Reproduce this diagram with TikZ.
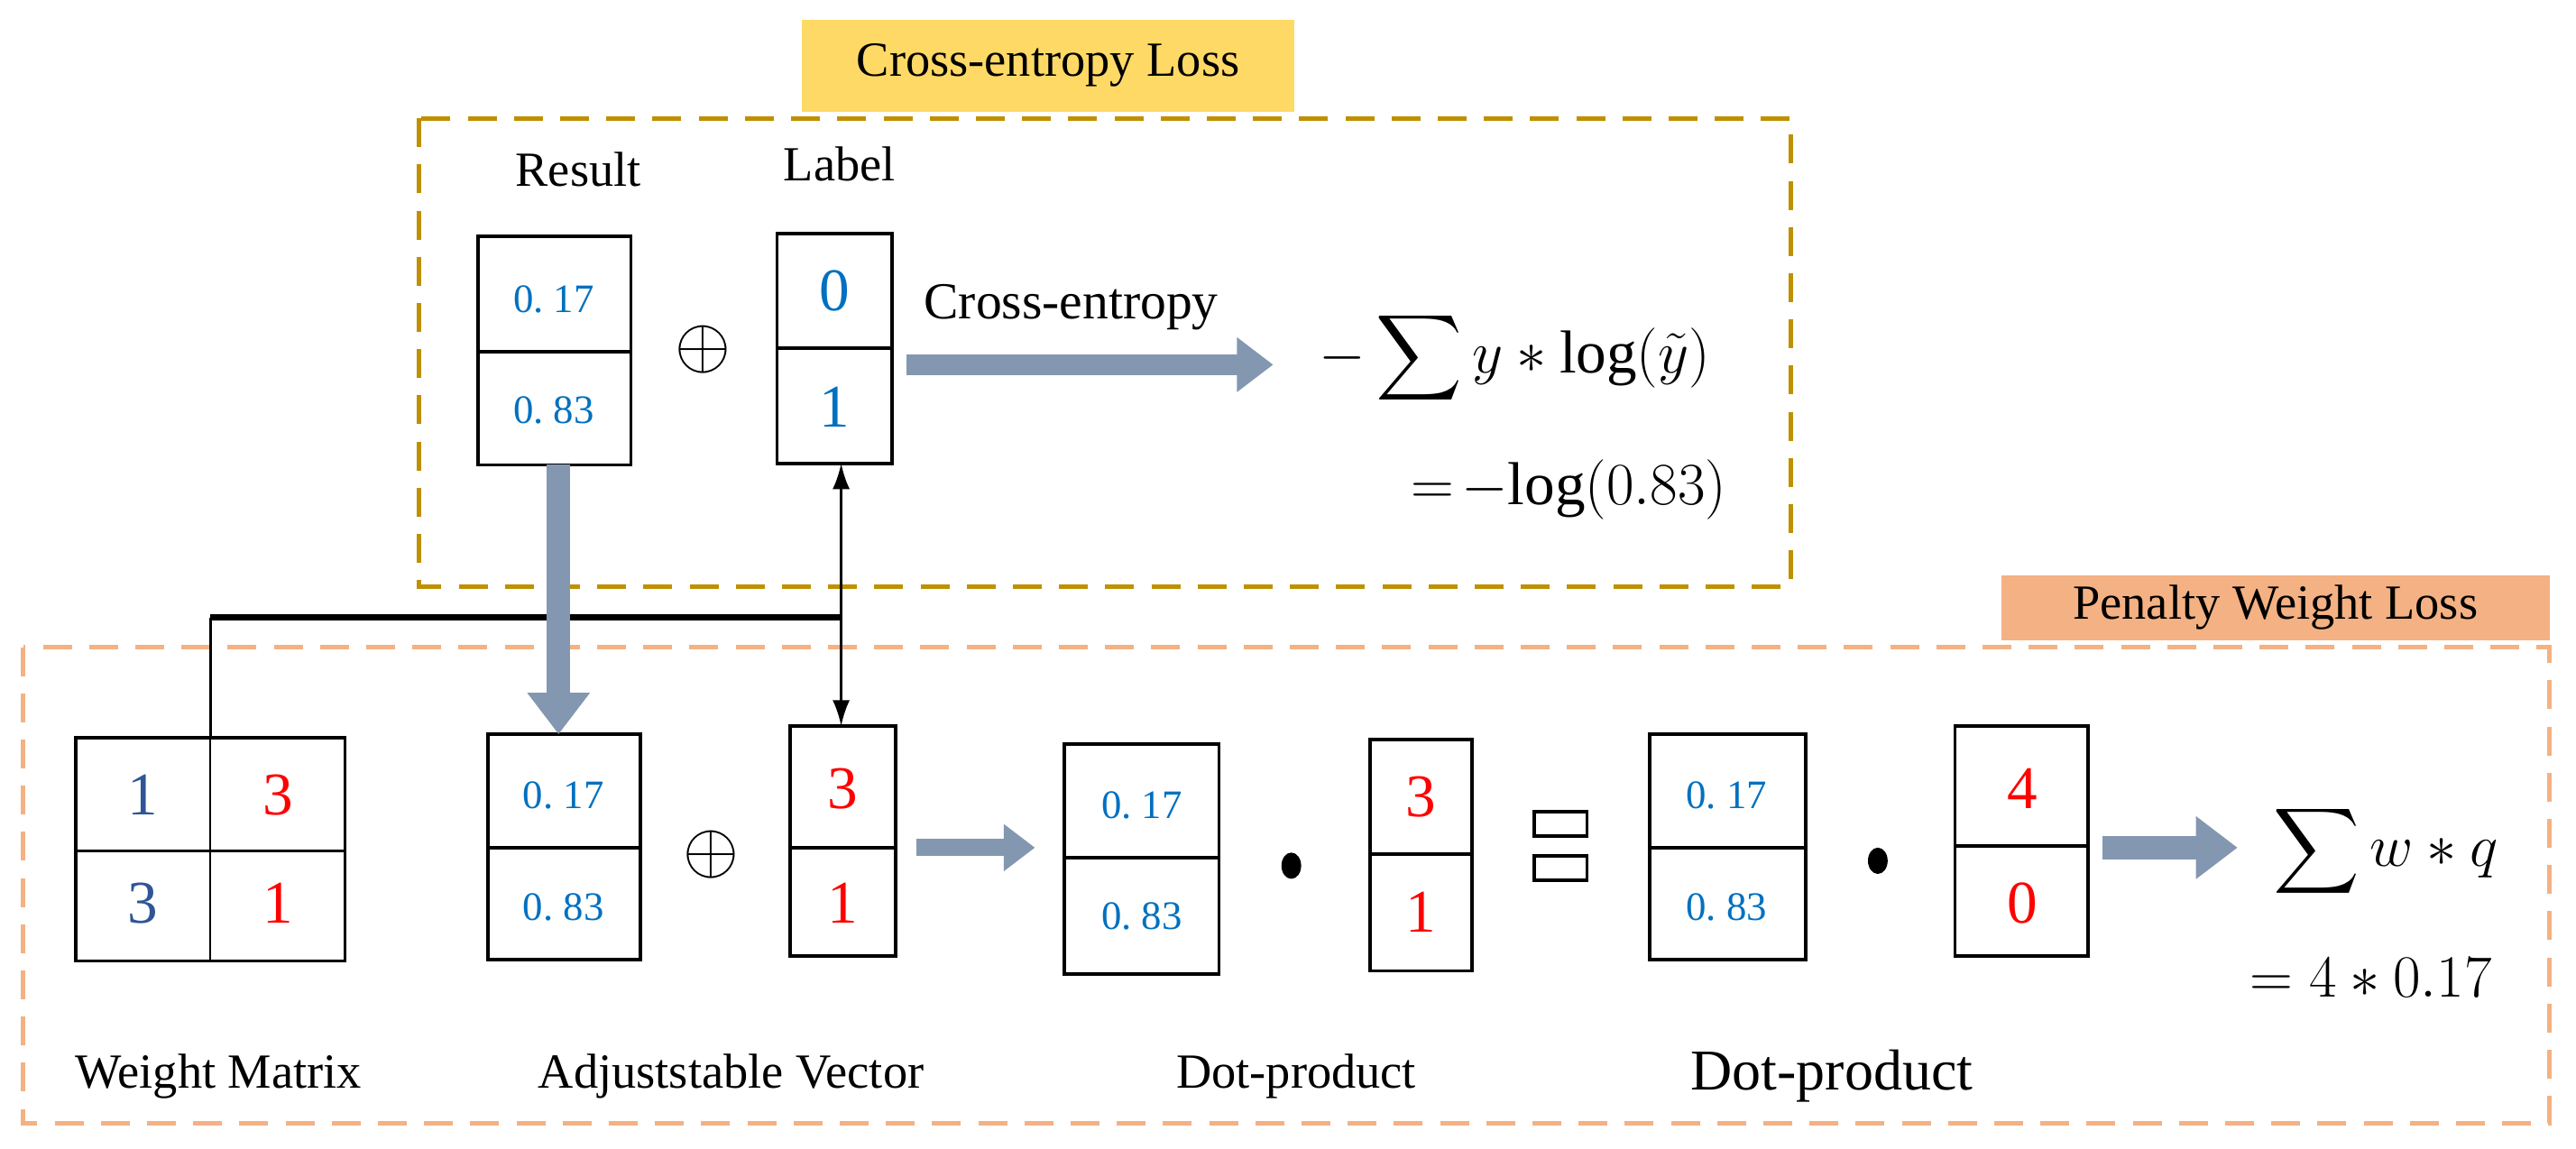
\documentclass[tikz,border=0pt]{standalone}
\usepackage{fontspec}
\setmainfont{Liberation Serif}
\usepackage{amsmath}
\usetikzlibrary{arrows.meta}
\definecolor{gold}{HTML}{BF9000}
\definecolor{peach}{HTML}{F4B183}
\definecolor{yel}{HTML}{FFD966}
\definecolor{arr}{HTML}{8497B0}
\definecolor{nblue}{HTML}{0070C0}
\definecolor{dblue}{HTML}{2F5597}
\definecolor{nred}{HTML}{FF0000}
\begin{document}
\begin{tikzpicture}[x=0.02cm,y=-0.02cm,
  box/.style={draw=black,line width=1.2pt},
  small/.style={font=\fontsize{14}{15}\selectfont,text=nblue},
  big/.style={font=\fontsize{21}{24}\selectfont},
  lab/.style={font=\fontsize{17}{20}\selectfont},
  garrow/.style={draw=arr,line width=#1,-{Triangle[length=1.8*#1,width=2.6*#1]}}]
\useasboundingbox (0,0) rectangle (1568,699);
% cross-entropy group
\node[fill=yel,minimum width=6cm,minimum height=1.12cm,lab] (cel) at (638,40) {Cross-entropy Loss};
\draw[gold,line width=1.6pt,dash pattern=on 10pt off 6pt] (255,72) rectangle (1090,357);
\node[lab] (tr) at (352,103) {Result};
\node[lab] (tl) at (511,100) {Label};
\draw[box] (291,144) rectangle (384,283); \draw[box] (291,214)--(384,214);
\node[small] (r1) at (337,182) {0.~17};
\node[small] (r2) at (337,250) {0.~83};
\coordinate (rb) at (340,283);
\node[font=\fontsize{30}{32}\selectfont] (op1) at (428,213) {$\oplus$};
\draw[box] (473,142) rectangle (543,282); \draw[box] (473,212)--(543,212);
\node[big,text=nblue] (l1) at (508,177) {0};
\node[big,text=nblue] (l2) at (508,248) {1};
\coordinate (lb) at (512,282);
\node[font=\fontsize{18}{20}\selectfont] (cet) at (652,187) {Cross-entropy};
\coordinate (c1) at (552,222); \coordinate (c2) at (775,222);
\draw[garrow=7pt] (c1)--(c2);
\node[big] (f1) at (922,218) {$-\displaystyle\sum y*\log(\tilde{y})$};
\node[big] (f2) at (955,298) {$=\!-\!\log(0.83)$};
% penalty group
\node[fill=peach,minimum width=6.68cm,minimum height=0.8cm,lab] (pwl) at (1385,370) {Penalty Weight Loss};
\draw[peach,line width=1.6pt,dash pattern=on 10pt off 6pt] (14,394) rectangle (1552,684);
% weight matrix
\draw[box] (46,449) rectangle (210,585); \draw[box] (46,518)--(210,518); \draw[line width=0.8pt] (128,449)--(128,585);
\coordinate (wt) at (128,449);
\node[big,text=dblue] (w1) at (87,484) {1};
\node[big,text=nred] (w2) at (169,484) {3};
\node[big,text=dblue] (w3) at (87,550) {3};
\node[big,text=nred] (w4) at (169,550) {1};
% adjustable vector
\draw[box] (297,447) rectangle (390,584); \draw[box] (297,516)--(390,516);
\coordinate (at) at (340,447);
\node[small] (a11) at (343,484) {0.~17};
\node[small] (a12) at (343,552) {0.~83};
\node[font=\fontsize{30}{32}\selectfont] (op2) at (433,520) {$\oplus$};
\draw[box] (481,442) rectangle (545,582); \draw[box] (481,516)--(545,516);
\coordinate (vt) at (512,442);
\node[big,text=nred] (v1) at (513,480) {3};
\node[big,text=nred] (v2) at (513,550) {1};
% connectors
\draw[line width=2.2pt] (128,376)--(512,376);
\draw[line width=1pt] (wt)--(128,376);
\draw[line width=1pt,-{Latex[length=9pt,width=6pt]}] (512,376)--(lb);
\draw[line width=1pt,-{Latex[length=9pt,width=6pt]}] (512,376)--(vt);
\draw[garrow=8pt] (rb)--(at);
\coordinate (s1) at (558,516); \coordinate (s2) at (630,516);
\draw[garrow=6pt] (s1)--(s2);
% dot product 1
\draw[box] (648,453) rectangle (742,593); \draw[box] (648,522)--(742,522);
\node[small] (d11) at (695,490) {0.~17};
\node[small] (d12) at (695,558) {0.~83};
\fill (786,527) ellipse (6 and 8);
\draw[box] (834,450) rectangle (896,591); \draw[box] (834,520)--(896,520);
\node[big,text=nred] (d21) at (865,485) {3};
\node[big,text=nred] (d22) at (865,555) {1};
\draw[line width=1.2pt] (934,494) rectangle (966,509) (934,521) rectangle (966,536);
% dot product 2
\draw[box] (1004,447) rectangle (1099,584); \draw[box] (1004,516)--(1099,516);
\node[small] (e11) at (1051,484) {0.~17};
\node[small] (e12) at (1051,552) {0.~83};
\fill (1143,524) ellipse (6 and 8);
\draw[box] (1190,442) rectangle (1271,582); \draw[box] (1190,515)--(1271,515);
\node[big,text=nred] (e21) at (1231,480) {4};
\node[big,text=nred] (e22) at (1231,550) {0};
\coordinate (u1) at (1280,516); \coordinate (u2) at (1362,516);
\draw[garrow=8pt] (u1)--(u2);
\node[big] (f3) at (1452,518) {$\displaystyle\sum w*q$};
\node[big] (f4) at (1443,595) {$=4*0.17$};
% labels
\node[lab] (t1) at (133,655) {Weight Matrix};
\node[lab] (t2) at (445,655) {Adjuststable Vector};
\node[lab] (t3) at (789,655) {Dot-product};
\node[font=\fontsize{20}{24}\selectfont] (t4) at (1115,655) {Dot-product};
\end{tikzpicture}
\end{document}
